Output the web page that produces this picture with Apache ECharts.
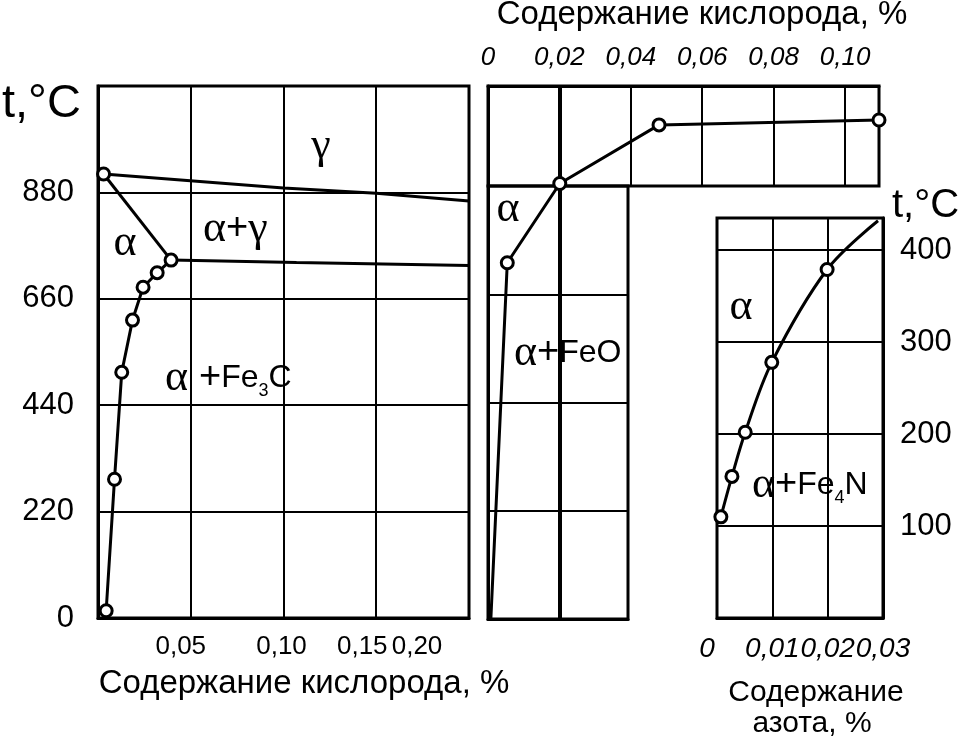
<!DOCTYPE html>
<html><head><meta charset="utf-8">
<script src="https://cdn.jsdelivr.net/npm/echarts@6/dist/echarts.min.js"></script>
<style>html,body{margin:0;padding:0;background:#fff}#c{width:964px;height:741px}</style>
</head><body><div id="c"></div>
<script>
// ---- Left panel (0 .. 0.20 %) ----
const leftXLabels = ['0', '0,05', '0,10', '0,15', '0,20'];
const leftYLabels = ['0', '220', '440', '660', '880'];
const leftSolvus = [[0.0044, 15], [0.0089, 287], [0.0128, 508], [0.0186, 616], [0.0243, 684], [0.0319, 714], [0.0394, 740]];
const leftA3 = [[0.003, 918], [0.10, 889], [0.15, 878], [0.20, 862]];
const leftAlphaEdge = [[0.003, 918], [0.0394, 740]];
const leftA1 = [[0.0394, 740], [0.107, 735], [0.20, 729]];
const leftPoints = [[0.003, 918], [0.0394, 740], [0.0319, 714], [0.0243, 684], [0.0186, 616], [0.0128, 508], [0.0089, 287], [0.0044, 15]];

// ---- Middle panel (oxygen) ----
const midXLabels = ['0', '0,02', '0,04', '0,06', '0,08', '0,10'];
const midUpper = [[0.0201, 885], [0.0479, 1004], [0.1095, 1014]];
const midLower = [[0.0008, 0], [0.0054, 724], [0.0201, 885]];
const midUpperPoints = [[0.0201, 885], [0.0479, 1004], [0.1095, 1014]];
const midLowerPoints = [[0.0054, 724]];
const midMark = [0.02];

// ---- Right panel (nitrogen) ----
const rightXLabels = ['0', '0,01', '0,02', '0,03'];
const rightYLabels = ['0', '100', '200', '300', '400'];
const rightCurve = [[0.0007, 110], [0.0027, 154], [0.0051, 202], [0.0099, 278], [0.0199, 379], [0.0291, 432]];
const rightPoints = [[0.0007, 110], [0.0027, 154], [0.0051, 202], [0.0099, 278], [0.0199, 379]];

const SANS = 'Liberation Sans';
const SERIF = 'Liberation Serif';
const BLACK = '#000';

function gridBox(left, top, width, height) {
  return { left, top, width, height, show: true, borderColor: BLACK, borderWidth: 3,
           backgroundColor: 'transparent', containLabel: false, outerBoundsMode: 'none' };
}
const axLine = { show: true, onZero: false, lineStyle: { color: BLACK, width: 3 } };
const split = { show: true, lineStyle: { color: BLACK, width: 2 } };
const noSplit = { show: false };

const chart = echarts.init(document.getElementById('c'), null, { renderer: 'canvas' });

const markerStyle = { color: '#fff', borderColor: BLACK, borderWidth: 3, opacity: 1 };
function lineSeries(xi, data, extra) {
  return Object.assign({ type: 'line', xAxisIndex: xi, yAxisIndex: xi, data, symbol: 'none',
    lineStyle: { color: BLACK, width: 3 }, clip: false, silent: true, z: 3 }, extra || {});
}
function pointSeries(xi, data) {
  return { type: 'scatter', xAxisIndex: xi, yAxisIndex: xi, data, symbol: 'circle', symbolSize: 12,
    itemStyle: markerStyle, clip: false, silent: true, z: 5 };
}

function shiftRich(shifts, size, italic) {
  const r = {};
  Object.keys(shifts).forEach(k => {
    r[k] = { fontFamily: SANS, fontSize: size, fontStyle: italic ? 'italic' : 'normal', color: BLACK,
             padding: [0, shifts[k], 0, 0] };
  });
  return r;
}
const leftRich = shiftRich({ s0: 0, s1: 20, s2: 4, s3: 28, s4: 104 }, 26, false);
const rightRich = shiftRich({ s0: 20, s1: 0, s2: 0, s3: 0 }, 28, true);

const option = {
  animation: false,
  backgroundColor: '#fff',
  textStyle: { fontFamily: SANS, color: BLACK },
  grid: [
    gridBox(98, 86, 371, 532),
    gridBox(488, 86, 391, 100),
    gridBox(488, 186, 140, 433),
    gridBox(717, 218, 166, 400)
  ],
  xAxis: [
    { gridIndex: 0, type: 'value', min: 0, max: 0.2, interval: 0.05, axisLine: axLine, axisTick: { show: false },
      splitLine: split,
      axisLabel: { showMinLabel: false, showMaxLabel: true, hideOverlap: false, margin: 16, fontFamily: SANS, fontSize: 26, color: BLACK,
        formatter: v => { const i = Math.round(v / 0.05); return '{s' + i + '|' + leftXLabels[i] + '}'; },
        rich: leftRich } },
    { gridIndex: 1, type: 'value', position: 'top', min: 0, max: 0.1095, interval: 0.02, axisLine: axLine,
      axisTick: { show: false }, splitLine: split,
      axisLabel: { showMinLabel: true, showMaxLabel: false, margin: 15, fontFamily: SANS, fontStyle: 'italic', fontSize: 26, color: BLACK,
        formatter: v => midXLabels[Math.round(v / 0.02)] || '' } },
    { gridIndex: 2, type: 'value', min: 0, max: 0.0392, interval: 0.02, axisLine: axLine,
      axisTick: { show: false }, splitLine: split, axisLabel: { show: false } },
    { gridIndex: 3, type: 'value', min: 0, max: 0.03, interval: 0.01, axisLine: axLine,
      axisTick: { show: false }, splitLine: split,
      axisLabel: { showMinLabel: true, showMaxLabel: true, hideOverlap: false, margin: 17, fontFamily: SANS,
        fontStyle: 'italic', fontSize: 28, color: BLACK,
        formatter: v => { const i = Math.round(v / 0.01); return '{s' + i + '|' + rightXLabels[i] + '}'; },
        rich: rightRich } }
  ],
  yAxis: [
    { gridIndex: 0, type: 'value', min: 0, max: 1100, interval: 220, axisLine: axLine, axisTick: { show: false },
      splitLine: split,
      axisLabel: { showMinLabel: true, showMaxLabel: false, margin: 24, fontFamily: SANS, fontSize: 31, color: BLACK, padding: [8, 0, 0, 0],
        formatter: v => leftYLabels[Math.round(v / 220)] || '' } },
    { gridIndex: 1, type: 'value', min: 880, max: 1083, axisLine: axLine, axisTick: { show: false },
      splitLine: noSplit, axisLabel: { show: false } },
    { gridIndex: 2, type: 'value', min: 0, max: 880, interval: 220, axisLine: axLine, axisTick: { show: false },
      splitLine: split, axisLabel: { show: false } },
    { gridIndex: 3, type: 'value', position: 'right', min: 0, max: 435, interval: 100, axisLine: axLine,
      axisTick: { show: false }, splitLine: split,
      axisLabel: { showMinLabel: false, showMaxLabel: false, margin: 17, fontFamily: SANS, fontSize: 31, color: BLACK,
        formatter: v => rightYLabels[Math.round(v / 100)] || '' } }
  ],
  series: [
    lineSeries(0, leftSolvus),
    lineSeries(0, leftA3),
    lineSeries(0, leftAlphaEdge),
    lineSeries(0, leftA1),
    pointSeries(0, leftPoints),
    lineSeries(1, midUpper, { markLine: { symbol: 'none', silent: true, label: { show: false },
      lineStyle: { color: BLACK, width: 4, type: 'solid' }, data: midMark.map(v => ({ xAxis: v })) } }),
    lineSeries(2, midLower, { markLine: { symbol: 'none', silent: true, label: { show: false },
      lineStyle: { color: BLACK, width: 4, type: 'solid' }, data: midMark.map(v => ({ xAxis: v })) } }),
    pointSeries(1, midUpperPoints),
    pointSeries(2, midLowerPoints),
    lineSeries(3, rightCurve, { smooth: 0.35 }),
    pointSeries(3, rightPoints)
  ]
};
chart.setOption(option);

// ---- Text annotations ----
const G = { fontFamily: SERIF, fontSize: 44, fill: BLACK, color: BLACK };
const P = { fontFamily: SANS, fontSize: 38, fill: BLACK, color: BLACK };
const S = { fontFamily: SANS, fontSize: 32, fill: BLACK, color: BLACK };
const SUB = { fontFamily: SANS, fontSize: 18, fill: BLACK, color: BLACK, verticalAlign: 'bottom' };
function txt(x, y, text, font, align, rich) {
  const style = { text, font, fill: BLACK, align: align || 'center', textAlign: align || 'center',
                  verticalAlign: 'middle', textVerticalAlign: 'middle' };
  if (rich) style.rich = rich;
  return { type: 'text', x, y, silent: true, z: 100, style };
}
const richPhase = { g: G, p: P, s: S, sub: SUB };
chart.setOption({
  graphic: [
    txt(2, 104, 't,°C', '47px ' + SANS, 'left'),
    txt(892, 206, 't,°C', '40px ' + SANS, 'left'),
    txt(702, 15, 'Содержание кислорода, %', '33px ' + SANS),
    txt(304, 684, 'Содержание кислорода, %', '33px ' + SANS),
    txt(816, 693, 'Содержание', '30px ' + SANS),
    txt(812, 724, 'азота, %', '30px ' + SANS),
    txt(321, 146, 'γ', '44px ' + SERIF),
    txt(125, 243, 'α', '44px ' + SERIF),
    txt(203, 229, '{g|α}{p|+}{g|γ}', '44px ' + SERIF, 'left', richPhase),
    txt(165, 378, '{g|α }{p|+}{s|Fe}{sub|3}{s|C}', '32px ' + SANS, 'left', richPhase),
    txt(508, 209, 'α', '44px ' + SERIF),
    txt(514, 353, '{g|α}{p|+}{s|FeO}', '32px ' + SANS, 'left', richPhase),
    txt(741, 307, 'α', '44px ' + SERIF),
    txt(752, 485, '{g|α}{p|+}{s|Fe}{sub|4}{s|N}', '32px ' + SANS, 'left', richPhase)
  ]
});
</script>
</body></html>
